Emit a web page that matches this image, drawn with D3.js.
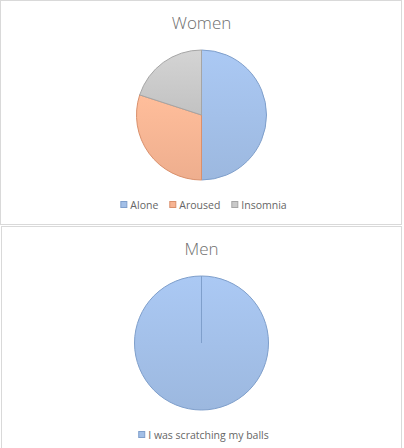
<!DOCTYPE html>
<html><head><meta charset="utf-8">
<script src="https://cdn.jsdelivr.net/npm/d3@7"></script>
<style>body{margin:0;background:#fff}svg{display:block}</style>
</head><body>
<svg id="c" width="404" height="448"></svg>
<script>
const womenCategories = ["Alone", "Aroused", "Insomnia"];
const womenValues = [50, 30, 20];
const womenColors = ["#a2bfe7", "#f7b493", "#c9c9c9"];
const womenStrokes = ["#7f9fcb", "#d9906c", "#a5a5a5"];
const menCategories = ["I was scratching my balls"];
const menValues = [100];
const menColors = ["#a2bfe7"];
const menStrokes = ["#7f9fcb"];

const svg = d3.select("#c");
const font = "'Open Sans', sans-serif";

const defs = svg.append("defs");
function grad(id, c) {
  const g = defs.append("linearGradient").attr("id", id).attr("x1", 0).attr("y1", 0).attr("x2", 0).attr("y2", 1);
  g.append("stop").attr("offset", "0%").attr("stop-color", d3.color(c).brighter(0.15));
  g.append("stop").attr("offset", "100%").attr("stop-color", d3.color(c).darker(0.1));
  return `url(#${id})`;
}

function chart(opts) {
  const g = svg.append("g");
  g.append("rect").attr("x", opts.box[0] + 0.5).attr("y", opts.box[1] + 0.5)
    .attr("width", opts.box[2]).attr("height", opts.box[3])
    .attr("fill", "#fff").attr("stroke", "#d9d9d9").attr("stroke-width", 1);
  g.append("text").attr("x", opts.cx).attr("y", opts.titleY).attr("text-anchor", "middle")
    .attr("font-family", font).attr("font-weight", 300).attr("font-size", 17).attr("fill", "#6e6e6e").text(opts.title);
  const pie = d3.pie().sort(null).value(d => d.v)(opts.cats.map((c, i) => ({c, v: opts.vals[i], i})));
  const arc = d3.arc().innerRadius(0).outerRadius(opts.r);
  const pg = g.append("g").attr("transform", `translate(${opts.cx},${opts.cy})`);
  pg.selectAll("path").data(pie).join("path")
    .attr("d", arc)
    .attr("fill", d => grad(opts.id + d.data.i, opts.colors[d.data.i]))
    .attr("stroke", d => opts.strokes[d.data.i]).attr("stroke-width", 1);
  if (opts.vals.length === 1) {
    pg.append("line").attr("x1", 0).attr("y1", 0).attr("x2", 0).attr("y2", -opts.r)
      .attr("stroke", opts.strokes[0]).attr("stroke-width", 1);
  }
  // legend
  const lg = g.append("g").attr("font-family", font).attr("font-size", 10.5).attr("fill", "#666");
  const items = opts.cats.map((c, i) => ({c, i}));
  const tmp = lg.append("text").attr("visibility", "hidden");
  const widths = items.map(d => { tmp.text(d.c); return tmp.node().getComputedTextLength(); });
  tmp.remove();
  const sw = 7, gap = 3, sep = 11;
  const total = widths.reduce((a, w) => a + sw + gap + w, 0) + sep * (items.length - 1);
  let x = opts.cx - total / 2 + 2;
  items.forEach((d, k) => {
    lg.append("rect").attr("x", x + 0.5).attr("y", opts.legY - 7.5).attr("width", sw - 1).attr("height", sw - 1)
      .attr("fill", opts.colors[d.i]).attr("stroke", opts.strokes[d.i]).attr("stroke-width", 1);
    lg.append("text").attr("x", x + sw + gap).attr("y", opts.legY).text(d.c);
    x += sw + gap + widths[k] + sep;
  });
}

chart({id: "w", box: [0, 0, 401, 224], title: "Women", titleY: 29, cx: 201.5, cy: 115, r: 65,
  cats: womenCategories, vals: womenValues, colors: womenColors, strokes: womenStrokes, legY: 209});
chart({id: "m", box: [1, 226, 400, 240], title: "Men", titleY: 255, cx: 201.5, cy: 343, r: 67,
  cats: menCategories, vals: menValues, colors: menColors, strokes: menStrokes, legY: 439});
</script>
</body></html>
